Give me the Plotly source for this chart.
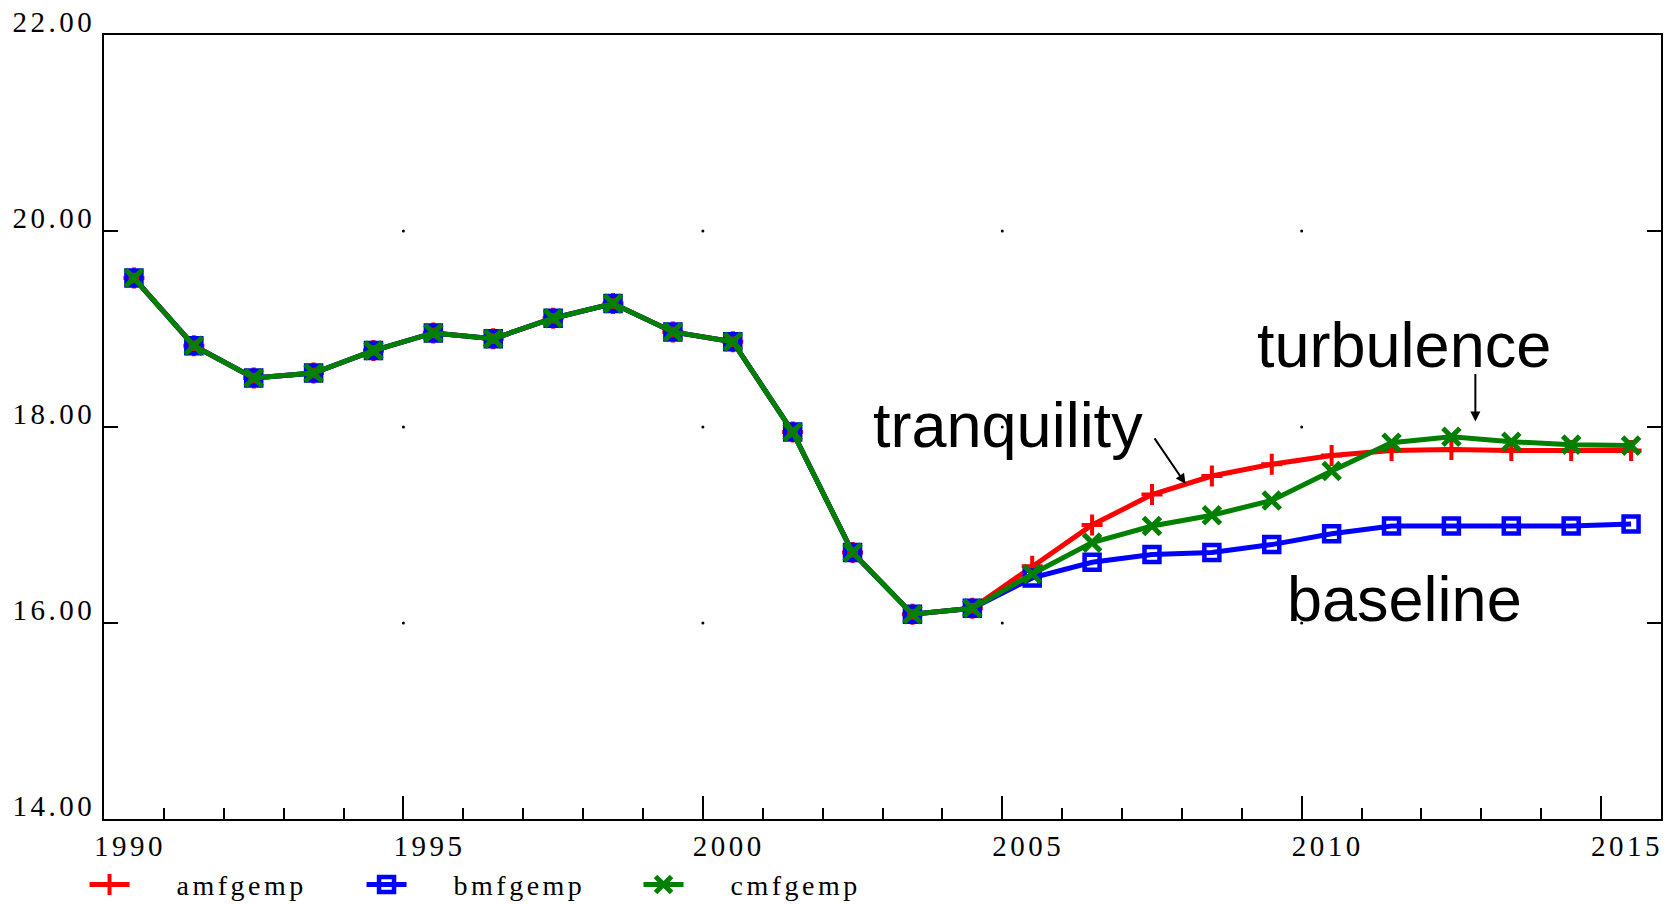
import plotly.graph_objects as go

# ---- data ----
years = [1990, 1991, 1992, 1993, 1994, 1995, 1996, 1997, 1998, 1999,
         2000, 2001, 2002, 2003, 2004, 2005, 2006, 2007, 2008, 2009,
         2010, 2011, 2012, 2013, 2014, 2015]

amfgemp = [19.52, 18.83, 18.50, 18.55, 18.78, 18.96, 18.90, 19.11, 19.26, 18.97,
           18.87, 17.95, 16.72, 16.09, 16.15, 16.58, 17.00, 17.31, 17.50, 17.62,
           17.71, 17.76, 17.77, 17.76, 17.76, 17.76]
bmfgemp = [19.52, 18.83, 18.50, 18.55, 18.78, 18.96, 18.90, 19.11, 19.26, 18.97,
           18.87, 17.95, 16.72, 16.09, 16.15, 16.46, 16.62, 16.70, 16.72, 16.80,
           16.91, 16.99, 16.99, 16.99, 16.99, 17.01]
cmfgemp = [19.52, 18.83, 18.50, 18.55, 18.78, 18.96, 18.90, 19.11, 19.26, 18.97,
           18.87, 17.95, 16.72, 16.09, 16.15, 16.50, 16.82, 16.99, 17.10, 17.25,
           17.55, 17.84, 17.90, 17.85, 17.82, 17.81]

x_tick_vals = [1990, 1995, 2000, 2005, 2010, 2015]
x_tick_labels = ["1990", "1995", "2000", "2005", "2010", "2015"]
y_tick_vals = [14, 16, 18, 20, 22]
y_tick_labels = ["14.00", "16.00", "18.00", "20.00", "22.00"]

# observations are plotted at mid-year
x_mid = [y + 0.5 for y in years]


def spaced(t, px=3.5):
    return f'<span style="letter-spacing:{px}px">{t}</span>'


SERIF = "Liberation Serif"
SANS = "Liberation Sans"

fig = go.Figure()

series = [
    ("amfgemp", amfgemp, "#ff0000", dict(symbol="cross-thin", size=15, line=dict(width=4, color="#ff0000"))),
    ("bmfgemp", bmfgemp, "#0000ff", dict(symbol="square-open", size=15, line=dict(width=4.5, color="#0000ff"))),
    ("cmfgemp", cmfgemp, "#008000", dict(symbol="x-thin", size=17, line=dict(width=5, color="#008000"))),
]
pad = "\u00a0" * 6
for name, vals, col, mk in series:
    fig.add_trace(go.Scatter(
        x=x_mid, y=vals, mode="lines+markers", name=pad + spaced(name),
        line=dict(color=col, width=5), marker=dict(color=col, **mk),
    ))

# small grid dots at interior major tick intersections
gx, gy = [], []
for xv in x_tick_vals[1:-1]:
    for yv in y_tick_vals[1:-1]:
        gx.append(xv)
        gy.append(yv)
fig.add_trace(go.Scatter(x=gx, y=gy, mode="markers", showlegend=False, hoverinfo="skip",
                         marker=dict(color="black", size=3)))

ann_font = dict(family=SANS, size=63, color="black")
fig.add_annotation(x=2005.09, y=18.02, text="tranquility", showarrow=False, font=ann_font,
                   xanchor="center", yanchor="middle")
fig.add_annotation(x=2008.06, y=17.42, text="", showarrow=True, arrowhead=2, arrowsize=1,
                   arrowwidth=2, arrowcolor="black", ax=-32, ay=-47)
fig.add_annotation(x=2011.7, y=18.84, text="turbulence", showarrow=False, font=ann_font,
                   xanchor="center", yanchor="middle")
fig.add_annotation(x=2012.9, y=18.055, text="", showarrow=True, arrowhead=2, arrowsize=1,
                   arrowwidth=2, arrowcolor="black", ax=0, ay=-49)
fig.add_annotation(x=2011.72, y=16.24, text="baseline", showarrow=False, font=ann_font,
                   xanchor="center", yanchor="middle")

fig.update_layout(
    width=1675, height=905,
    margin=dict(l=104, r=14, t=35, b=86, pad=0, autoexpand=False),
    paper_bgcolor="white", plot_bgcolor="white",
    showlegend=True,
    legend=dict(orientation="h", x=-0.0125, y=-0.084, xanchor="left", yanchor="middle",
                font=dict(family=SERIF, size=28, color="black"),
                entrywidth=222, entrywidthmode="pixels", itemwidth=40,
                bgcolor="rgba(0,0,0,0)", borderwidth=0),
    font=dict(family=SERIF, color="black"),
)

fig.update_xaxes(
    range=[1990, 2016], showgrid=False, zeroline=False, automargin=False,
    showline=True, linecolor="black", linewidth=2, mirror=True,
    ticks="inside", ticklen=23, tickwidth=2, tickcolor="black",
    tickvals=x_tick_vals, ticktext=[spaced(t) for t in x_tick_labels],
    tickfont=dict(family=SERIF, size=29, color="black"),
    ticklabelshift=26, ticklabelstandoff=0,
    minor=dict(dtick=1, tick0=1990, ticks="inside", ticklen=11, tickwidth=2, tickcolor="black"),
)
fig.update_yaxes(
    range=[14, 22], showgrid=False, zeroline=False, automargin=False,
    showline=True, linecolor="black", linewidth=2, mirror="ticks",
    ticks="inside", ticklen=14, tickwidth=2, tickcolor="black",
    tickvals=y_tick_vals, ticktext=[spaced(t) for t in y_tick_labels],
    tickfont=dict(family=SERIF, size=29, color="black"),
    ticklabelshift=-13, ticklabelstandoff=1,
)

fig.write_html("out.html", config={"displayModeBar": False},
               post_script="document.body.style.margin='0px';")
